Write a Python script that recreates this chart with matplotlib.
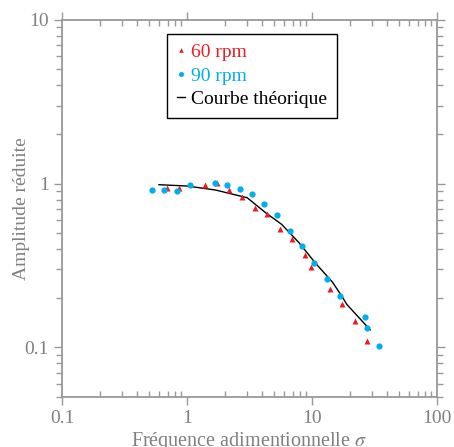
import numpy as np
import matplotlib
matplotlib.use('Agg')
import matplotlib.pyplot as plt

plt.rcParams['font.family'] = ['Liberation Serif', 'DejaVu Serif']
plt.rcParams['mathtext.fontset'] = 'stix'

# 60 rpm (triangles)
sig_60 = [0.69, 0.87, 1.38, 1.74, 2.17, 2.74, 3.47, 4.35, 5.50, 6.92, 8.73, 9.82, 13.8, 17.3, 21.9, 27.6]
amp_60 = [0.945, 0.945, 0.986, 1.01, 0.91, 0.833, 0.714, 0.653, 0.531, 0.457, 0.368, 0.311, 0.229, 0.185, 0.144, 0.109]

# 90 rpm (circles)
sig_90 = [0.524, 0.658, 0.826, 1.05, 1.66, 2.08, 2.63, 3.30, 4.15, 5.27, 6.62, 8.31, 10.4, 13.2, 16.6, 26.4, 27.4, 34.5]
amp_90 = [0.91, 0.91, 0.902, 0.986, 1.01, 0.986, 0.932, 0.865, 0.755, 0.644, 0.516, 0.414, 0.328, 0.262, 0.207, 0.153, 0.132, 0.102]

# theoretical curve
sig_th = [0.596, 1.0, 1.69, 3.03, 4.25, 5.71, 7.87, 10.7, 14.6, 17.5, 19.0, 29.2]
amp_th = [0.986, 0.968, 0.915, 0.821, 0.665, 0.565, 0.436, 0.326, 0.250, 0.203, 0.183, 0.128]

red = '#ec1c24'
blue = '#00aeef'
grey = '#808080'

fig = plt.figure(figsize=(4.54, 4.47), dpi=100)
ax = fig.add_axes([0.1366, 0.1125, 0.826, 0.8428])

ax.plot(sig_th, amp_th, '-', color='black', lw=1.0, label='Courbe théorique', zorder=2)
ax.plot(sig_60, amp_60, '^', color=red, ms=4.2, mec='none', label='60 rpm', zorder=3)
ax.plot(sig_90, amp_90, 'o', color=blue, ms=4.5, mec='none', label='90 rpm', zorder=3)

ax.set_xscale('log')
ax.set_yscale('log')
ax.set_xlim(0.1, 100)
ax.set_ylim(0.05, 10)

ax.set_xticks([0.1, 1, 10, 100])
ax.set_xticklabels(['0.1', '1', '10', '100'])
ax.set_yticks([0.1, 1, 10])
ax.set_yticklabels(['0.1', '1', '10'])

for s in ax.spines.values():
    s.set_color('#999999')
    s.set_linewidth(1.3)

ax.tick_params(which='both', direction='out', colors='#999999', labelcolor=grey,
               top=True, right=True, labelsize=14)
ax.tick_params(which='major', length=6, width=1)
ax.tick_params(which='minor', length=4, width=1)
ax.tick_params(axis='x', which='minor', direction='in')

ax.set_xlabel('Fréquence adimentionnelle $\\sigma$', fontsize=14.5, color=grey, labelpad=2)
ax.set_ylabel('Amplitude réduite', fontsize=14, color=grey)
ax.yaxis.set_label_coords(-0.085, 0.5)

handles, labels = ax.get_legend_handles_labels()
order = [1, 2, 0]
leg = ax.legend([handles[i] for i in order], [labels[i] for i in order],
                loc='upper left', bbox_to_anchor=(0.28, 0.963), borderaxespad=0,
                fancybox=False, framealpha=1, edgecolor='black', fontsize=14,
                handlelength=0.45, handletextpad=0.3, labelspacing=0.3,
                borderpad=0.5, markerscale=0.8)
leg.get_frame().set_linewidth(1.0)
for t, c in zip(leg.get_texts(), [red, blue, 'black']):
    t.set_color(c)

fig.savefig('out.png', dpi=100)
